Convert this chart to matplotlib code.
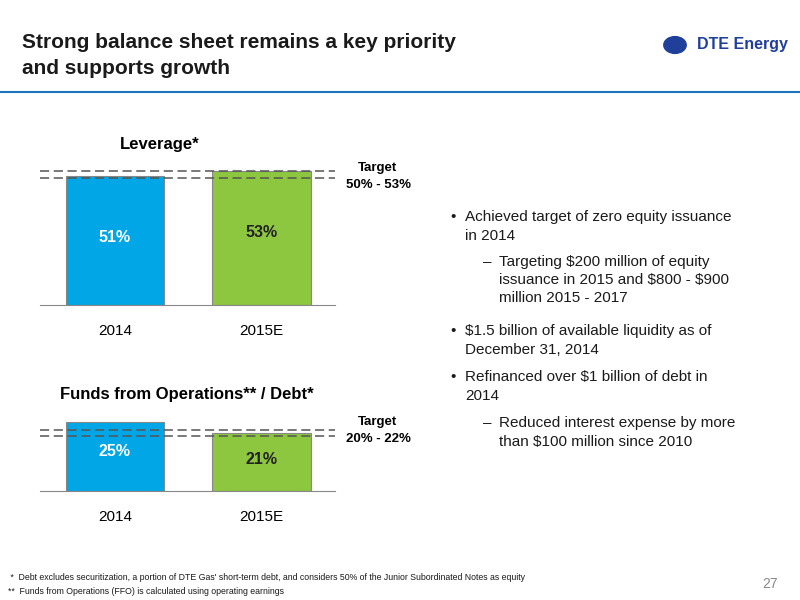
import matplotlib
matplotlib.use("Agg")
import matplotlib.pyplot as plt
from matplotlib.lines import Line2D

plt.rcParams['font.family'] = ['Liberation Sans', 'Arimo', 'DejaVu Sans']
plt.rcParams['text.parse_math'] = False

years = ["2014", "2015E"]
leverage = [51, 53]
lev_target = [50, 53]
ffo = [25, 21]
ffo_target = [20, 22]
colors = ["#00A6E6", "#8DC63F"]
label_colors = ["white", "#222222"]

W, H = 800, 600
fig = plt.figure(figsize=(8, 6), dpi=100)

def ax_at(x0, y0, x1, y1):
    return fig.add_axes([x0 / W, 1 - y1 / H, (x1 - x0) / W, (y1 - y0) / H])

def bar_chart(ax, vals, targets, ytop, label_offsets):
    ax.bar(range(len(vals)), vals, width=0.67, color=colors, edgecolor="#888888", linewidth=0.8)
    for t in targets:
        ax.axhline(t, color="#555555", linestyle=(0, (6, 3)), linewidth=1.1)
    ax.set_xlim(-0.51, 1.5)
    ax.set_ylim(0, ytop)
    for s in ["top", "right", "left"]:
        ax.spines[s].set_visible(False)
    ax.spines["bottom"].set_color("#888888")
    ax.set_yticks([])
    ax.set_xticks(range(len(vals)))
    ax.set_xticklabels(years, fontsize=11)
    ax.tick_params(axis="x", length=0, pad=14)
    for i, v in enumerate(vals):
        ax.text(i, v * label_offsets[i], f"{v}%", ha="center", va="center",
                fontsize=11.5, fontweight="bold", color=label_colors[i])

ax1 = ax_at(40, 160, 335, 305)
bar_chart(ax1, leverage, lev_target, 57.3, [0.52, 0.54])
ax2 = ax_at(40, 415, 335, 491)
bar_chart(ax2, ffo, ffo_target, 27.5, [0.57, 0.55])

def ftext(x, y, s, **kw):
    fig.text(x / W, 1 - y / H, s, **kw)

# Header
ftext(22, 42, "Strong balance sheet remains a key priority", fontsize=15, fontweight="bold", color="#1a1a1a", va="center")
ftext(22, 69, "and supports growth", fontsize=15, fontweight="bold", color="#1a1a1a", va="center")
fig.add_artist(Line2D([0, 1], [1 - 92 / H] * 2, color="#1E73BE", linewidth=1.5))
ftext(697, 45, "DTE Energy", fontsize=11.5, fontweight="bold", color="#1F3F9A", va="center")
fig.add_artist(plt.Circle((675 / W, 1 - 45 / H), 0.014, transform=fig.transFigure, color="#1F3F9A"))

# Chart titles
ftext(160, 145, "Leverage*", fontsize=12, fontweight="bold", ha="center", va="center")
ftext(187, 395, "Funds from Operations** / Debt*", fontsize=12, fontweight="bold", ha="center", va="center")
ftext(378, 168, "Target", fontsize=9.5, fontweight="bold", ha="center", va="center")
ftext(378, 185, "50% - 53%", fontsize=9.5, fontweight="bold", ha="center", va="center")
ftext(378, 422, "Target", fontsize=9.5, fontweight="bold", ha="center", va="center")
ftext(378, 439, "20% - 22%", fontsize=9.5, fontweight="bold", ha="center", va="center")

# Bullets
bul = dict(fontsize=11, color="#1a1a1a", va="center")
ftext(450, 217, "•", **bul); ftext(465, 217, "Achieved target of zero equity issuance", **bul)
ftext(465, 236, "in 2014", **bul)
ftext(483, 262, "–", **bul); ftext(499, 262, "Targeting $200 million of equity", **bul)
ftext(499, 280, "issuance in 2015 and $800 - $900", **bul)
ftext(499, 298, "million 2015 - 2017", **bul)
ftext(450, 331, "•", **bul); ftext(465, 331, "$1.5 billion of available liquidity as of", **bul)
ftext(465, 350, "December 31, 2014", **bul)
ftext(450, 377, "•", **bul); ftext(465, 377, "Refinanced over $1 billion of debt in", **bul)
ftext(465, 396, "2014", **bul)
ftext(483, 423, "–", **bul); ftext(499, 423, "Reduced interest expense by more", **bul)
ftext(499, 442, "than $100 million since 2010", **bul)

# Footnotes
ftext(8, 578, " *  Debt excludes securitization, a portion of DTE Gas' short-term debt, and considers 50% of the Junior Subordinated Notes as equity",
      fontsize=6.3, color="#1a1a1a", va="center")
ftext(8, 592, "**  Funds from Operations (FFO) is calculated using operating earnings", fontsize=6.3, color="#1a1a1a", va="center")
ftext(778, 584, "27", fontsize=10, color="#888888", ha="right", va="center")

fig.savefig("out.png", dpi=100)
